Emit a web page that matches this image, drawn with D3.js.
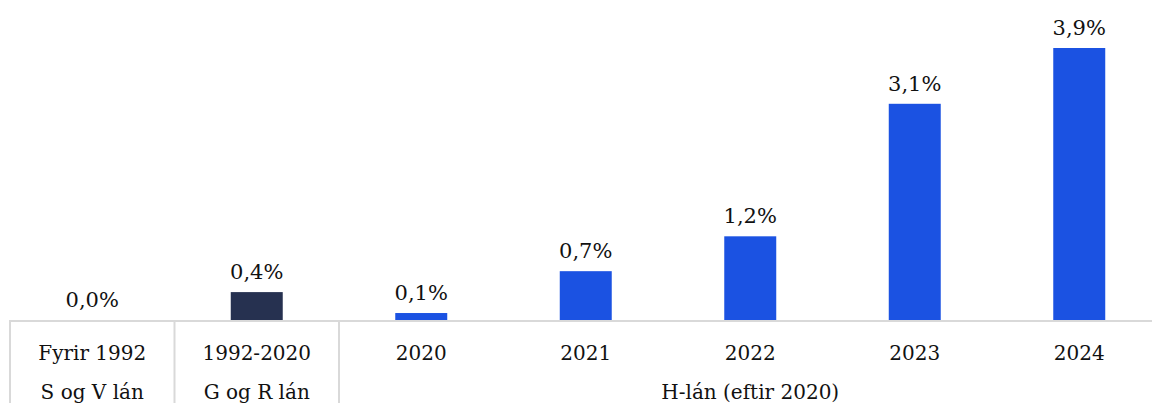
<!DOCTYPE html>
<html>
<head>
<meta charset="utf-8">
<script src="https://cdn.jsdelivr.net/npm/d3@7"></script>
<style>
  html, body { margin: 0; padding: 0; background: #fff; }
  svg { display: block; }
</style>
</head>
<body>
<div id="chart"></div>
<script>
// categories and values
const categories = ["Fyrir 1992", "1992-2020", "2020", "2021", "2022", "2023", "2024"];
const values = [0.0, 0.4, 0.1, 0.7, 1.2, 3.1, 3.9];
const barColors = ["#263150", "#263150", "#1b52e2", "#1b52e2", "#1b52e2", "#1b52e2", "#1b52e2"];
// second row of the axis: group label and which categories it spans
const groups = [
  { label: "S og V lán", from: 0, to: 0 },
  { label: "G og R lán", from: 1, to: 1 },
  { label: "H-lán (eftir 2020)", from: 2, to: 6 }
];

const width = 1152;
const height = 403;
const font = "'DejaVu Serif', Georgia, serif";
const fontSize = 20;

const svg = d3.select("#chart")
  .append("svg")
  .attr("width", width)
  .attr("height", height)
  .style("font-family", font);

// plot area runs slightly past the right edge of the image
const x = d3.scaleBand()
  .domain(categories)
  .range([10, 1161.5])
  .paddingInner(0.684)
  .paddingOuter(0.342);

const baseY = 320;
const y = d3.scaleLinear()
  .domain([0, 3.9])
  .range([baseY, 48]);

const fmt = v => d3.format(".1f")(v).replace(".", ",") + "%";

// bars
svg.append("g")
  .selectAll("rect")
  .data(values)
  .join("rect")
  .attr("x", (d, i) => x(categories[i]))
  .attr("width", x.bandwidth())
  .attr("y", d => y(d))
  .attr("height", d => baseY - y(d))
  .attr("fill", (d, i) => barColors[i]);

// value labels
svg.append("g")
  .attr("text-anchor", "middle")
  .style("font-size", "21px")
  .selectAll("text")
  .data(values)
  .join("text")
  .attr("x", (d, i) => x(categories[i]) + x.bandwidth() / 2)
  .attr("y", d => y(d) - 13)
  .attr("fill", "#111")
  .text(d => fmt(d));

// axis line
const lineColor = "#d9d9d9";
svg.append("line")
  .attr("x1", 10).attr("x2", width)
  .attr("y1", baseY + 1).attr("y2", baseY + 1)
  .attr("stroke", lineColor)
  .attr("stroke-width", 2);

// group separators
const step = x.step();
const x0 = x.range()[0];
const seps = [0, 1, 2];
svg.append("g")
  .selectAll("line")
  .data(seps)
  .join("line")
  .attr("x1", d => x0 + d * step)
  .attr("x2", d => x0 + d * step)
  .attr("y1", baseY)
  .attr("y2", height)
  .attr("stroke", lineColor)
  .attr("stroke-width", 2);

// category labels
svg.append("g")
  .attr("text-anchor", "middle")
  .style("font-size", fontSize + "px")
  .selectAll("text")
  .data(categories)
  .join("text")
  .attr("x", d => x(d) + x.bandwidth() / 2)
  .attr("y", 360)
  .attr("fill", "#111")
  .text(d => d);

// group labels
svg.append("g")
  .attr("text-anchor", "middle")
  .style("font-size", fontSize + "px")
  .selectAll("text")
  .data(groups)
  .join("text")
  .attr("x", d => x0 + (d.from + d.to + 1) / 2 * step)
  .attr("y", 399)
  .attr("fill", "#111")
  .text(d => d.label);
</script>
</body>
</html>
